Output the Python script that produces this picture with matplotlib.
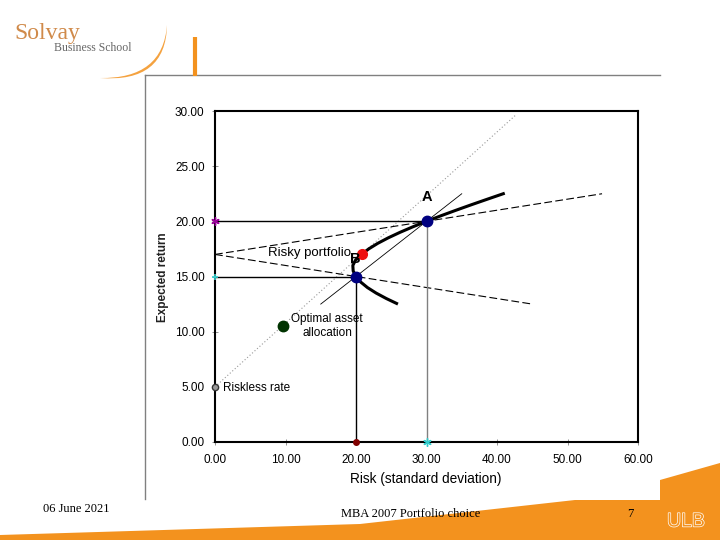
import matplotlib
matplotlib.use("Agg")
import matplotlib.pyplot as plt
import matplotlib.patheffects as pe
from matplotlib.path import Path
from matplotlib.patches import PathPatch, Polygon

# efficient frontier (sigma, expected return)
frontier_sigma = [25.95, 24.31, 22.85, 21.62, 20.66, 20.00, 19.60, 19.55, 19.95,
                  20.79, 21.80, 23.07, 24.56, 26.23, 28.05, 29.99, 32.03, 34.16,
                  36.35, 38.60, 41.10]
frontier_mu = [12.5, 13.0, 13.5, 14.0, 14.5, 15.0, 15.5, 16.0, 16.5,
               17.0, 17.5, 18.0, 18.5, 19.0, 19.5, 20.0, 20.5, 21.0,
               21.5, 22.0, 22.55]

# portfolios
point_a = (30.0, 20.0)
point_b = (20.0, 15.0)
risky = (20.8, 17.0)
optimal = (9.6, 10.5)
riskless = (0.0, 5.0)

# straight lines
cml_x, cml_y = [0.0, 42.6], [5.0, 29.6]
dash_up_x, dash_up_y = [0.0, 54.9], [17.0, 22.5]
dash_dn_x, dash_dn_y = [0.0, 45.0], [17.0, 12.5]
ab_x, ab_y = [15.0, 35.0], [12.5, 22.5]

x_ticks = [0, 10, 20, 30, 40, 50, 60]
y_ticks = [0, 5, 10, 15, 20, 25, 30]

ORANGE = "#f3921e"
SANS = "Liberation Sans"
SERIF = "Liberation Serif"

fig = plt.figure(figsize=(7.2, 5.4), dpi=100)

# slide background (pixel coordinates)
bg = fig.add_axes([0, 0, 1, 1], zorder=0)
bg.set_xlim(0, 720)
bg.set_ylim(540, 0)
bg.axis("off")

bg.add_patch(Polygon([(0, 540), (0, 535), (360, 524), (575, 500), (660, 500),
                      (660, 480), (720, 463), (720, 540)],
                     closed=True, facecolor=ORANGE, edgecolor="none"))
bg.plot([145, 660], [75, 75], color="#808080", lw=1)
bg.plot([145, 145], [75, 499], color="#808080", lw=1)
bg.plot([195, 195], [37, 76], color=ORANGE, lw=3, solid_capstyle="butt")

# logo crescent (thin arc)
verts = [(100, 78), (166, 83), (167, 25), (163, 79), (100, 78)]
codes = [Path.MOVETO, Path.CURVE3, Path.CURVE3, Path.CURVE3, Path.CURVE3]
bg.add_patch(PathPatch(Path(verts, codes), facecolor=ORANGE, edgecolor="none", alpha=0.85))
bg.text(14, 33, "Solvay", fontsize=17, family=SERIF, color="#d08a4a", va="center")
bg.text(54, 48, "Business School", fontsize=8.5, family=SERIF, color="#666666", va="center")

bg.text(43, 509, "06 June 2021", fontsize=9, family=SERIF, va="center")
bg.text(411, 514, "MBA 2007 Portfolio choice", fontsize=9, family=SERIF,
        va="center", ha="center")
bg.text(630, 514, "7", fontsize=9, family=SERIF, va="center", ha="center")
bg.text(686, 522, "ULB", fontsize=14, family=SANS, color=ORANGE, va="center",
        ha="center", path_effects=[pe.Stroke(linewidth=1.0, foreground="white"), pe.Normal()])

# chart
ax = fig.add_axes([215 / 720, 1 - 442 / 540, 423 / 720, 331 / 540], zorder=1)
ax.set_xlim(0, 60)
ax.set_ylim(0, 30)

ax.plot(cml_x, cml_y, color="#999999", lw=0.8, linestyle=(0, (1, 2)))
ax.plot(dash_up_x, dash_up_y, color="black", lw=0.8, linestyle=(0, (7, 3)))
ax.plot(dash_dn_x, dash_dn_y, color="black", lw=0.8, linestyle=(0, (7, 3)))
ax.plot(ab_x, ab_y, color="black", lw=0.6)

ax.plot([0, point_a[0]], [point_a[1], point_a[1]], color="black", lw=1)
ax.plot([point_a[0], point_a[0]], [0, point_a[1]], color="#808080", lw=1)
ax.plot([0, point_b[0]], [point_b[1], point_b[1]], color="black", lw=1)
ax.plot([point_b[0], point_b[0]], [0, point_b[1]], color="black", lw=1)

ax.plot(frontier_sigma, frontier_mu, color="black", lw=2.2, solid_capstyle="butt")

ax.plot(*point_a, "o", color="#000080", ms=7.5, zorder=5)
ax.plot(*point_b, "o", color="#000080", ms=7.5, zorder=5)
ax.plot(*risky, "o", color="#ee1111", ms=7, zorder=5)
ax.plot(*optimal, "o", color="#003300", ms=7.5, zorder=5)
ax.plot(*riskless, "o", mfc="#999999", mec="#333333", ms=4.5, zorder=5, clip_on=False)

ax.plot(0, point_a[1], marker=(6, 2, 0), color="#990099", ms=6, mew=1, clip_on=False, zorder=6)
ax.plot(0, point_b[1], marker="+", color="#33cccc", ms=5, mew=1.2, clip_on=False, zorder=6)
ax.plot(point_b[0], 0, "o", color="#800000", ms=4, clip_on=False, zorder=6)
ax.plot(point_a[0], 0, marker=(6, 2, 0), color="#33cccc", ms=6, mew=1, clip_on=False, zorder=6)

ax.text(point_a[0], point_a[1] + 1.6, "A", fontsize=10.5, family=SANS,
        fontweight="bold", ha="center", va="bottom")
ax.text(point_b[0] - 0.1, 16.6, "B", fontsize=10.5, family=SANS,
        fontweight="bold", ha="center", va="center", zorder=7)
ax.text(19.3, 17.1, "Risky portfolio", fontsize=9.5, family=SANS, ha="right", va="center")
ax.text(15.9, 10.5, "Optimal asset\nallocation", fontsize=8.5, family=SANS,
        ha="center", va="center", linespacing=1.25)
ax.text(1.2, 4.9, "Riskless rate", fontsize=8.5, family=SANS, ha="left", va="center")

ax.set_xticks(x_ticks)
ax.set_yticks(y_ticks)
ax.set_xticklabels([f"{v:.2f}" for v in x_ticks], family=SANS, fontsize=8.5)
ax.set_yticklabels([f"{v:.2f}" for v in y_ticks], family=SANS, fontsize=8.5)
ax.tick_params(direction="inout", length=5, width=0.6, color="#808080", pad=5)
ax.tick_params(axis="x", pad=6)
for side in ax.spines:
    ax.spines[side].set_linewidth(1.5)
    ax.spines[side].set_color("black")

fig.text(163 / 720, 1 - 277 / 540, "Expected return", rotation=90, fontsize=8.5,
         family=SANS, fontweight="bold", ha="center", va="center", color="#222222")
fig.text(426 / 720, 1 - 479 / 540, "Risk (standard deviation)", fontsize=9.8,
         family=SANS, ha="center", va="center")

fig.savefig("out.png", dpi=100)
